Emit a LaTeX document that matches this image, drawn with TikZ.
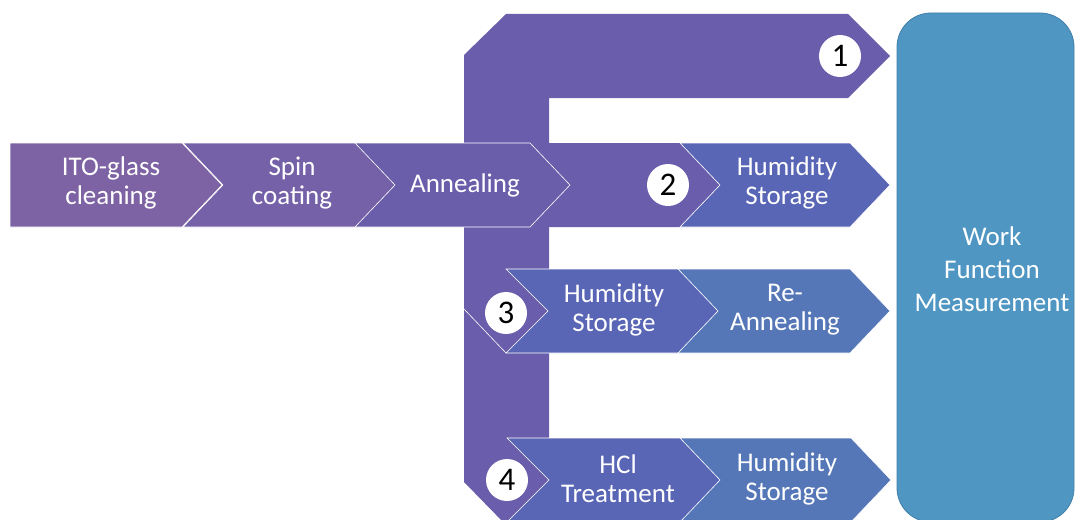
\documentclass[tikz,border=0pt]{standalone}
\usepackage{fontspec}
\setmainfont{Carlito}
\usetikzlibrary{positioning}

\definecolor{stepA}{HTML}{7E63A4}
\definecolor{stepB}{HTML}{7561A8}
\definecolor{stepC}{HTML}{6A5DAA}
\definecolor{pathbar}{HTML}{6A5DAB}
\definecolor{stepD}{HTML}{5965B5}
\definecolor{stepE}{HTML}{5577B8}
\definecolor{wfmfill}{HTML}{4F96C3}
\definecolor{wfmline}{HTML}{3F7FAA}

% chevron: colour, left x, tip x, centre y, notch depth
\newcommand{\chevron}[5]{%
  \filldraw[chevbox, fill=#1] (#2,#4-42) -- (#3-40,#4-42) -- (#3,#4)
    -- (#3-40,#4+42) -- (#2,#4+42) -- (#2+#5,#4) -- cycle;}

\begin{document}
\begin{tikzpicture}[x=1pt, y=-1pt,
    chevbox/.style={draw=white, line width=0.6pt, line join=miter},
    steptext/.style={text=white, align=center, inner sep=0pt, font=\fontsize{27}{29}\selectfont},
    numdot/.style={circle, fill=white, minimum size=42pt, inner sep=0pt, font=\fontsize{33}{33}\selectfont},
    wfmbox/.style={draw=wfmline, fill=wfmfill, line width=0.8pt, rounded corners=34pt}]
  \useasboundingbox (0,0) rectangle (1075,519);

  % big route shape behind the steps
  \fill[pathbar] (464,55) -- (506,14) -- (848,14) -- (890,56) -- (848,98)
    -- (549,98) -- (549,482) -- (506,525) -- (464,482) -- cycle;
  \fill[pathbar] (540,143) -- (680,143) -- (720,185) -- (680,227) -- (540,227) -- cycle;
  \draw[white, line width=0.6pt] (464,309) -- (506,353);

  % main line
  \chevron{stepA}{10}{222}{185}{0}
  \chevron{stepB}{183}{397}{185}{40}
  \chevron{stepC}{355}{570}{185}{40}
  \node[steptext] (ito) at (111,183) {ITO-glass\\cleaning};
  \node[steptext] (spin) at (292,183) {Spin\\coating};
  \node[steptext] (anneal) at (465,185) {Annealing};

  % route 2
  \chevron{stepD}{680}{890}{185}{40}
  \node[steptext] (hum2) at (787,183) {Humidity\\Storage};

  % route 3
  \chevron{stepD}{506}{719}{311}{42}
  \chevron{stepE}{678}{890}{311}{40}
  \node[steptext] (hum3) at (614,310) {Humidity\\Storage};
  \node[steptext] (reann) at (785,310) {Re-\\Annealing};

  % route 4
  \chevron{stepD}{507}{723}{480}{42}
  \chevron{stepE}{680}{891}{480}{40}
  \node[steptext] (hcl) at (618,479) {HCl\\Treatment};
  \node[steptext] (hum4) at (787,479) {Humidity\\Storage};

  % route numbers
  \node[numdot] (n1) at (840,56) {1};
  \node[numdot] (n2) at (668,185) {2};
  \node[numdot] (n3) at (506,313) {3};
  \node[numdot] (n4) at (507,480) {4};

  % measurement
  \node[wfmbox, minimum width=177pt, minimum height=509pt] (wfm) at (985.5,267.5) {};
  \node[steptext, font=\fontsize{27}{33}\selectfont] (wfmtext) at (992,269)
    {Work\\Function\\Measurement};
\end{tikzpicture}
\end{document}
